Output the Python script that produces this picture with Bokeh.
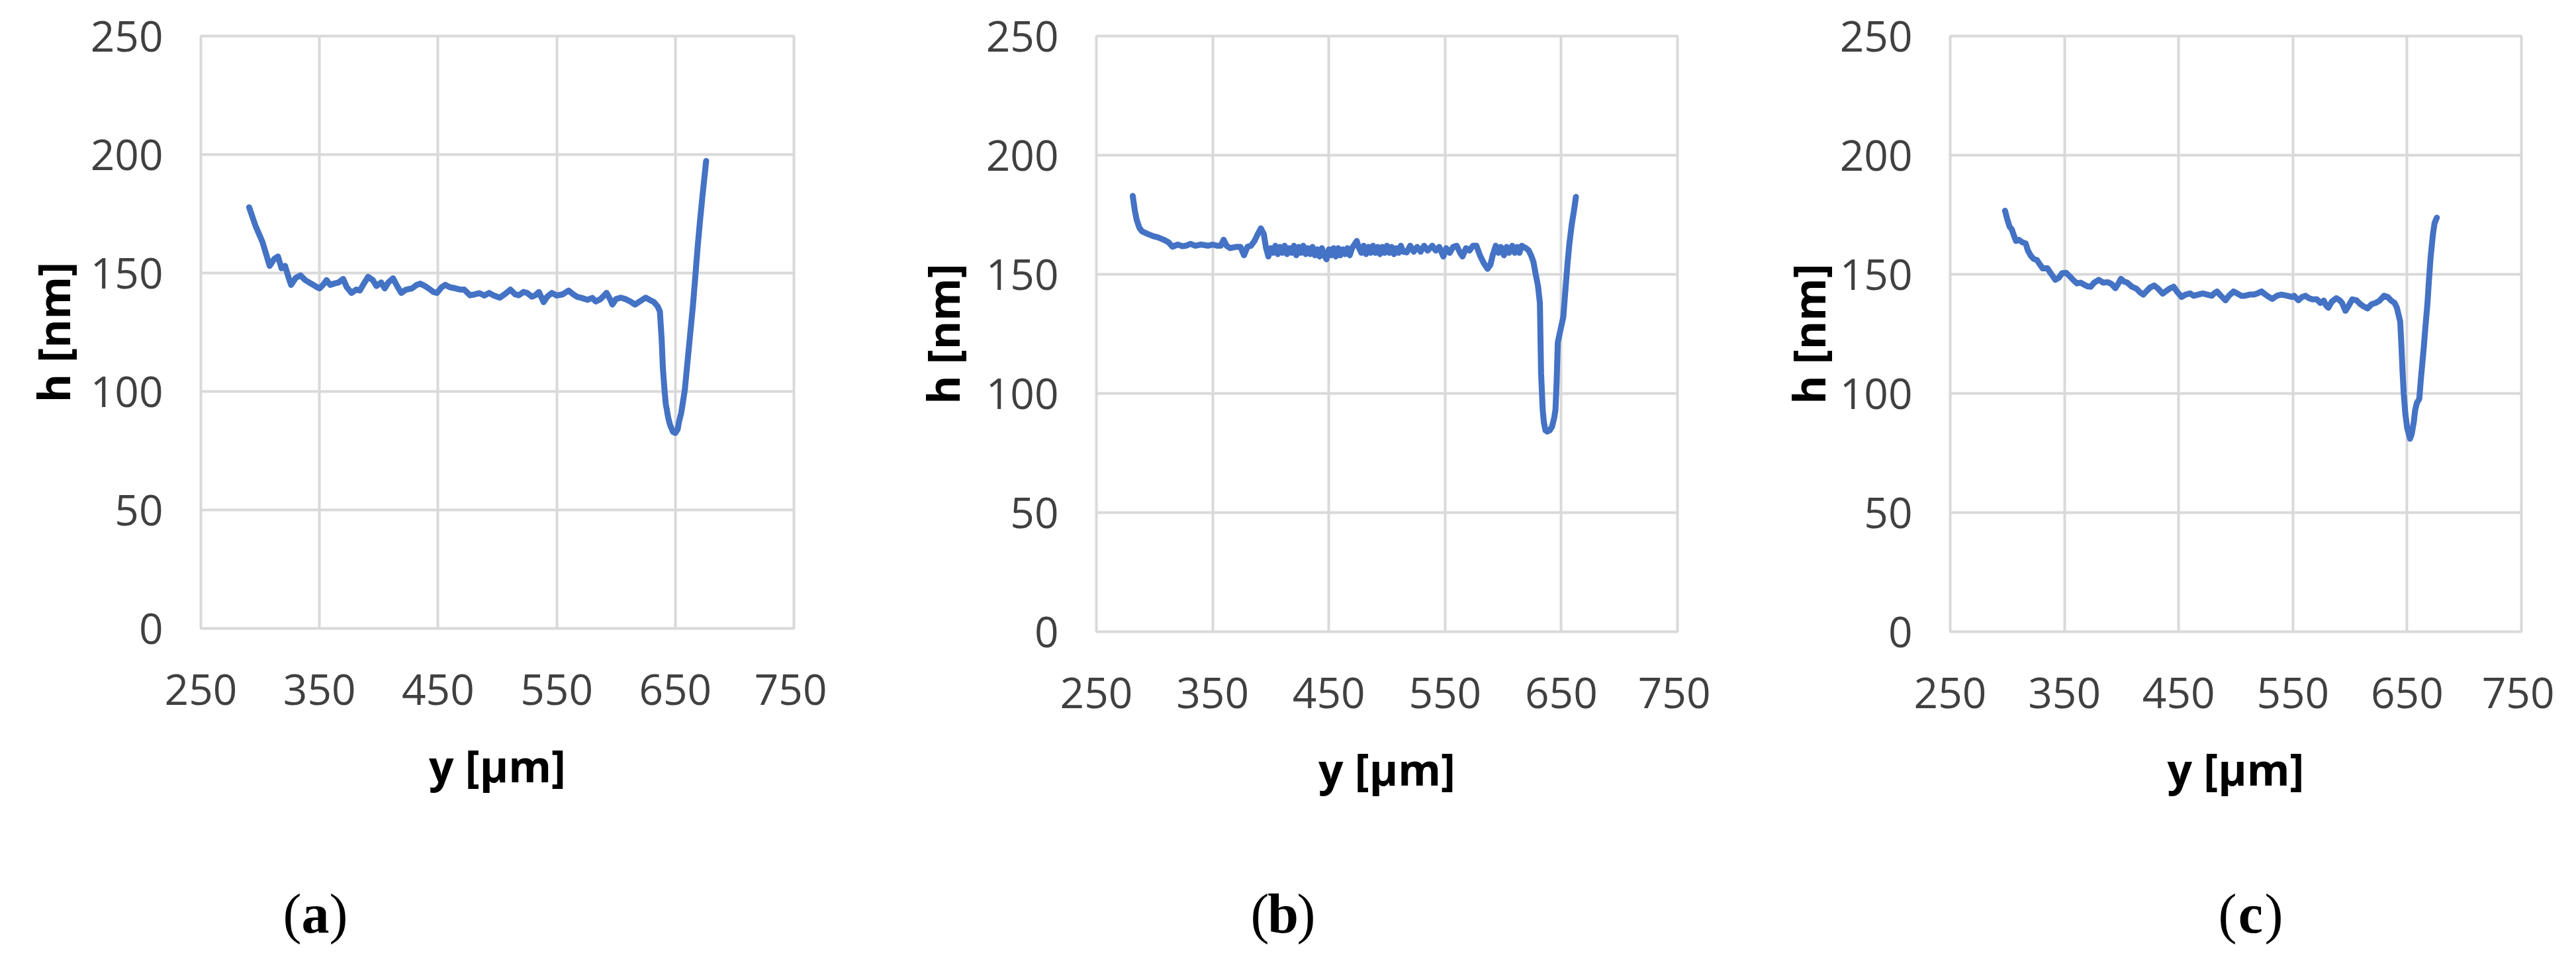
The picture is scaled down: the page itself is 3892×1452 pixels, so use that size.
from bokeh.plotting import figure
from bokeh.layouts import row, column
from bokeh.models import Range1d, FixedTicker
from bokeh.core.properties import value
from bokeh.embed import file_html
from bokeh.resources import INLINE

# ---------------- data ----------------
x_a = [290.7, 296, 302, 308, 312, 315, 318, 321, 324, 326, 330, 334, 338, 343, 348, 350, 353, 356, 359, 362,
       366, 370, 373, 377, 381, 384, 388, 391, 395, 398, 402, 405, 408, 412, 416, 419, 423, 428, 432, 435,
       439, 442, 446, 449, 453, 456, 460, 465, 469, 472, 477, 481, 485, 489, 493, 497, 502, 506, 511, 515,
       518, 522, 525, 529, 532, 535, 539, 542, 546, 550, 555, 560, 564, 567, 571, 576, 580, 583, 587, 592,
       595, 597, 600, 604, 608, 612, 616, 620, 625, 629, 632, 635, 637, 638.5, 639.5, 641, 642, 644, 645.5, 648,
       650, 652, 653, 655, 658, 660, 662.5, 665, 667, 669, 671, 673, 676]
h_a = [177.7, 170, 163, 153, 156, 157, 152, 153, 148, 145, 148, 149, 147, 145.5, 144, 143.5, 145, 147, 145, 145.5,
       146, 147.5, 144, 141.6, 143, 142.6, 146, 148.4, 147, 144.5, 146, 143.5, 146, 147.8, 144, 141.6, 143, 143.5, 145, 145.5,
       144.5, 143.5, 142, 141.6, 144, 145, 144, 143.5, 143, 143, 140.6, 141, 141.5, 140.5, 141.6, 140.5, 139.6, 141, 143, 141,
       140.6, 142, 141.6, 140, 140.6, 142, 137.7, 140, 141.6, 140.5, 141, 142.6, 141, 140, 139.5, 138.7, 139.5, 138, 139, 141.6,
       139, 136.7, 139, 139.6, 139, 138, 136.7, 138, 139.6, 138.5, 137.7, 136, 133.8, 122, 110, 100, 94.7, 89, 86, 83,
       82.5, 84, 87, 91, 100.6, 111, 124, 137, 149.4, 162, 172.9, 183, 197.3]

x_b = [281.3, 283, 284.7, 287, 289.4, 294, 299, 303, 308, 312, 315.5, 320, 324, 327, 331, 335, 340, 346, 350, 354,
       357, 359.5, 362, 365, 370, 374, 377, 380, 383, 386, 389, 391.5, 394, 396, 398, 400, 402, 404, 406, 408,
       410, 412, 414, 416, 418, 420, 422, 424, 426, 428, 430, 432, 434, 436, 438, 440, 442, 444, 446, 448,
       450, 452, 454, 456, 458, 460, 462, 464, 466, 468, 470, 472, 474, 476, 478, 480, 482, 484, 486, 488,
       490, 492, 494, 496, 498, 500, 502, 504, 506, 508, 510, 512, 514, 517, 520, 523, 526, 529, 532, 535,
       539, 542, 545, 548.5, 551, 554, 557, 560, 563, 565, 568, 571, 574, 577, 580, 583, 586.5, 589, 591, 593.6,
       596, 598, 600.7, 603, 605, 607.8, 610, 612, 614, 616, 619.6, 622, 624, 626, 628, 630, 631.6, 632.6, 634, 635,
       636.4, 638, 640, 642, 644, 645, 646, 647, 649, 651.7, 653, 655.5, 657, 659, 661, 662.6]
h_b = [182.9, 177, 172.8, 169.5, 168, 167, 166, 165.5, 164.5, 163.5, 161.6, 162.5, 161.8, 162, 162.8, 162, 162.5, 162, 162.5, 162,
       162, 164.5, 162, 161, 161.5, 161.5, 158, 161.6, 162, 164, 167, 169.3, 167, 161, 157.5, 161, 159, 162, 158.5, 161.5,
       159, 162, 158.5, 161, 159, 162, 158, 161.5, 159, 162, 158.5, 161, 158.5, 161.5, 158, 160.5, 157.5, 161, 158, 156.3,
       160.5, 158, 161, 157.5, 161, 158, 160.5, 158.5, 161, 158, 161, 162.5, 164, 161, 159, 162, 158.5, 161.5, 159, 162,
       159, 161.5, 158.5, 161.5, 159, 162, 159, 161.5, 158.5, 161, 159, 162, 159.5, 159.2, 162, 159.5, 161.5, 159.5, 162, 160,
       162, 160, 161.5, 157.5, 161, 159, 161.5, 162, 159, 157.5, 161, 160, 162, 162, 158, 155, 152.3, 154, 158, 162,
       159, 161.5, 158, 161.5, 159, 162, 159, 161.5, 159, 162, 161, 160, 158, 155.3, 150, 145, 137.9, 108.7, 93.2, 88,
       84.5, 84, 84.5, 86, 90, 93.2, 105, 121.4, 126, 132, 140, 155.3, 163, 170.9, 177, 182.5]

x_c = [298, 300, 302, 303.8, 306, 307.6, 310, 313, 316, 318, 320.6, 323, 326, 328, 331, 335, 338, 342, 345, 348,
       351.6, 355, 358, 361, 364, 368, 370, 373, 376, 380, 384, 388, 391, 394.6, 397, 399.5, 402, 405, 409, 413,
       416, 419, 422, 425, 428.6, 432, 436, 439, 442, 445.5, 449, 452.6, 456, 460, 463, 467, 471, 475, 479, 481,
       483.6, 487, 491, 494, 498, 501, 505, 508, 512, 516, 519, 522.5, 526, 529, 532, 536, 540, 545, 549, 551,
       554.8, 558, 561, 564, 567, 571, 574, 577, 579, 581, 584, 588, 591, 593, 596, 599, 602, 605.6, 609, 612,
       615.3, 619, 622.5, 626, 629.7, 633, 636, 639, 641, 643.9, 645, 646, 647, 648.4, 650, 652.5, 654, 655.8, 657, 658.5,
       660.6, 662, 664.5, 666, 667.8, 669, 670.5, 672.6, 674, 676]
h_c = [176.7, 173, 170, 169, 166, 164, 164.5, 163.5, 163, 160, 157.8, 156.5, 156, 154.5, 152.5, 152.6, 150.5, 147.7, 148.5, 150.5,
       150.6, 149, 147.5, 146.2, 146.5, 145.5, 145, 144.8, 146.5, 147.7, 146.5, 146.7, 146, 144.2, 146, 148.1, 147, 146.5, 144.8, 144,
       142.5, 141.5, 143, 144.5, 145.3, 144, 141.9, 143, 144, 144.8, 142.5, 140.5, 141.5, 142, 141, 141.5, 142, 141.5, 141, 142,
       142.8, 141, 139.1, 141, 142.8, 142, 141, 141, 141.5, 141.5, 142, 142.8, 141.5, 140.5, 139.7, 141, 141.5, 141, 140.5, 141,
       139.1, 140.5, 141, 140, 139.5, 139.5, 138, 139, 137, 136, 138.5, 140, 139.1, 138, 134.7, 137, 139.5, 139.1, 137.5, 136.5,
       135.7, 137.5, 138, 139, 141, 140.5, 139, 138, 136, 130.2, 120, 108.9, 100, 91.5, 85.5, 81, 83, 88, 93, 96,
       97.7, 106, 119, 128, 138, 147, 157, 167, 171.5, 173.8]

x_ticks = [250, 350, 450, 550, 650, 750]
h_ticks = [0, 50, 100, 150, 200, 250]
x_title = "y [μm]"
h_title = "h [nm]"
panel_letters = ["a", "b", "c"]

# ---------------- styling / layout ----------------
LINE_COLOR = "#4472C4"
GRID_COLOR = "#d9d9d9"
TICK_COLOR = "#404040"
FONT = "Open Sans"
MAIN_H = 1255      # height of the row of charts (canvas px)
LETTER_H = 180     # height of the strip holding (a) (b) (c)
STRIP_SHIFT = 18   # observed extra downward shift of the strip text

panels = [
    dict(x=x_a, h=h_a, bl=303, fw=896, bt=54, fh=895, ystand=9),
    dict(x=x_b, h=h_b, bl=407, fw=878, bt=44, fh=900, ystand=18),
    dict(x=x_c, h=h_c, bl=362, fw=863, bt=44, fh=900, ystand=0),
]
BORDER_RIGHT = 50
letter_cx = [484 - 8, 1946 - 8, 3408 - 8]   # page px -> canvas px
letter_baseline = 1406 - 8

figs = []
for i, pd_ in enumerate(panels):
    bb = MAIN_H - pd_["bt"] - pd_["fh"]
    p = figure(title=None, frame_width=pd_["fw"], frame_height=pd_["fh"],
               min_border_left=pd_["bl"], min_border_right=BORDER_RIGHT,
               min_border_top=pd_["bt"], min_border_bottom=bb,
               x_range=Range1d(250, 750), y_range=Range1d(0, 250),
               output_backend="svg", toolbar_location=None,
               background_fill_color="white", border_fill_color="white")
    p.line(pd_["x"], pd_["h"], line_color=LINE_COLOR, line_width=9, line_join="round", line_cap="round")

    p.xaxis.ticker = FixedTicker(ticks=x_ticks)
    p.yaxis.ticker = FixedTicker(ticks=h_ticks)
    for ax in (p.xaxis[0], p.yaxis[0]):
        ax.axis_line_color = None
        ax.major_tick_line_color = None
        ax.minor_tick_line_color = None
        ax.major_tick_out = 0
        ax.major_tick_in = 0
        ax.minor_tick_out = 0
        ax.minor_tick_in = 0
        ax.major_label_text_font = FONT
        ax.major_label_text_font_size = "64px"
        ax.major_label_text_color = TICK_COLOR
        ax.axis_label_text_font = FONT
        ax.axis_label_text_font_size = "66px"
        ax.axis_label_text_font_style = "bold"
        ax.axis_label_text_color = "black"
    p.xaxis.axis_label = x_title
    p.yaxis.axis_label = h_title
    p.xaxis.major_label_standoff = 69
    p.yaxis.major_label_standoff = 57
    p.xaxis.axis_label_standoff = 43
    p.yaxis.axis_label_standoff = pd_["ystand"]

    p.xgrid.ticker = FixedTicker(ticks=x_ticks)
    p.ygrid.ticker = FixedTicker(ticks=h_ticks)
    p.grid.grid_line_color = GRID_COLOR
    p.grid.grid_line_width = 4
    p.outline_line_color = GRID_COLOR
    p.outline_line_width = 4
    figs.append(p)

total_w = sum(pd_["bl"] + pd_["fw"] + BORDER_RIGHT for pd_ in panels)

# strip below the charts holding the panel letters; its data units are canvas pixels
q = figure(title=None, frame_width=total_w, frame_height=LETTER_H,
           min_border_left=0, min_border_right=0, min_border_top=0, min_border_bottom=0,
           x_range=Range1d(0, total_w), y_range=Range1d(0, LETTER_H),
           output_backend="svg", toolbar_location=None,
           background_fill_color="white", border_fill_color="white")
q.axis.visible = False
q.grid.visible = False
q.outline_line_color = None
ly = [MAIN_H + STRIP_SHIFT + LETTER_H - letter_baseline] * 3
common = dict(text_baseline="alphabetic", text_font=value("Liberation Serif"),
              text_font_size="84px", text_color="black")
q.text(x=letter_cx, y=ly, text=["("] * 3, text_align="right", x_offset=-21, **common)
q.text(x=letter_cx, y=ly, text=panel_letters, text_align="center", text_font_style="bold", **common)
q.text(x=letter_cx, y=ly, text=[")"] * 3, text_align="left", x_offset=21, **common)

layout = column(row(*figs), q)
open("out.html", "w").write(file_html(layout, INLINE))
